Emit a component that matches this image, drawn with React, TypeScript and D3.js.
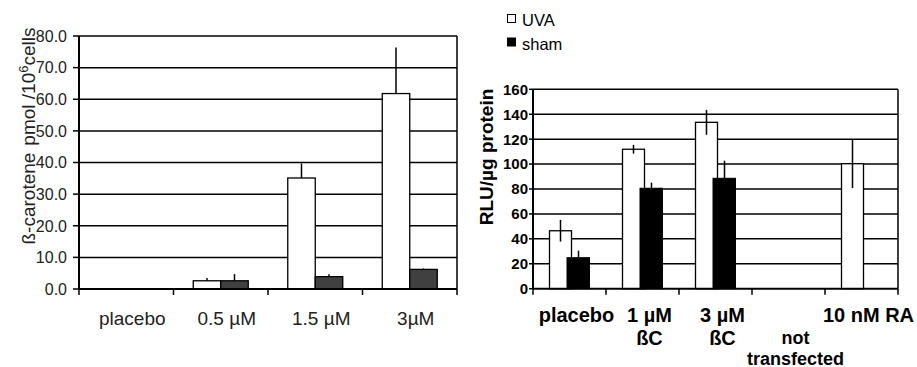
import React, { useEffect, useRef } from 'react';
import * as d3 from 'd3';

// left panel: beta-carotene uptake
const leftCategories = ['placebo', '0.5 µM', '1.5 µM', '3µM'];
const leftUva = [0, 2.6, 35.1, 61.8];
const leftUvaErr = [0, 0.9, 4.6, 14.6];
const leftSham = [0, 2.6, 3.9, 6.2];
const leftShamErr = [0, 2.1, 0.8, 0.3];
const leftTicks = [0, 10, 20, 30, 40, 50, 60, 70, 80];

// right panel: luciferase activity
const rightCategories = [['placebo'], ['1 µM', 'ßC'], ['3 µM', 'ßC'], ['', 'not', 'transfected'], ['10 nM RA']];
const rightUva = [46.5, 111.9, 133.5, 0, 100.3];
const rightUvaErr = [8.7, 3.5, 10, 0, 19.6];
const rightSham = [24.9, 80.6, 88.6, 0, 0];
const rightShamErr = [5.6, 4.5, 14.1, 0, 0];
const rightTicks = [0, 20, 40, 60, 80, 100, 120, 140, 160];

const legendItems = ['UVA', 'sham'];

const FONT = '"Liberation Sans", Arial, sans-serif';

const App = () => {
  const svgRef = useRef<SVGSVGElement>(null);

  useEffect(() => {
    const svg = d3.select(svgRef.current);
    svg.selectAll('*').remove();
    svg.attr('font-family', FONT);

    // ---------- left chart ----------
    const xL = d3.scaleBand().domain(leftCategories).range([79, 457]);
    const yL = d3.scaleLinear().domain([0, 80]).range([289, 36]);
    const gL = svg.append('g');

    gL.selectAll('line.grid')
      .data(leftTicks.filter(t => t > 0))
      .enter().append('line')
      .attr('x1', 79).attr('x2', 457)
      .attr('y1', d => yL(d)).attr('y2', d => yL(d))
      .attr('stroke', '#000').attr('stroke-width', 1.5);
    gL.append('line').attr('x1', 457).attr('x2', 457).attr('y1', yL(80)).attr('y2', yL(0))
      .attr('stroke', '#000').attr('stroke-width', 1.5);

    const bwL = 27.5;
    leftCategories.forEach((c, i) => {
      const cx = xL(c)! + xL.bandwidth() / 2;
      if (leftUva[i] > 0) {
        gL.append('rect').attr('x', cx - bwL).attr('width', bwL)
          .attr('y', yL(leftUva[i])).attr('height', yL(0) - yL(leftUva[i]))
          .attr('fill', '#fff').attr('stroke', '#000').attr('stroke-width', 1.3);
        gL.append('line').attr('x1', cx - bwL / 2).attr('x2', cx - bwL / 2)
          .attr('y1', yL(leftUva[i])).attr('y2', yL(leftUva[i] + leftUvaErr[i]))
          .attr('stroke', '#000').attr('stroke-width', 1.5);
      }
      if (leftSham[i] > 0) {
        gL.append('rect').attr('x', cx).attr('width', bwL)
          .attr('y', yL(leftSham[i])).attr('height', yL(0) - yL(leftSham[i]))
          .attr('fill', '#404040').attr('stroke', '#000').attr('stroke-width', 1.3);
        gL.append('line').attr('x1', cx + bwL / 2).attr('x2', cx + bwL / 2)
          .attr('y1', yL(leftSham[i])).attr('y2', yL(leftSham[i] + leftShamErr[i]))
          .attr('stroke', '#000').attr('stroke-width', 1.5);
      }
    });

    // axes
    gL.append('line').attr('x1', 79).attr('x2', 79).attr('y1', yL(80)).attr('y2', yL(0))
      .attr('stroke', '#000').attr('stroke-width', 2);
    gL.append('line').attr('x1', 79).attr('x2', 457).attr('y1', yL(0)).attr('y2', yL(0))
      .attr('stroke', '#000').attr('stroke-width', 2);
    leftTicks.forEach(t => {
      gL.append('line').attr('x1', 73).attr('x2', 79).attr('y1', yL(t)).attr('y2', yL(t))
        .attr('stroke', '#000').attr('stroke-width', 1.5);
      gL.append('text').attr('x', 67).attr('y', yL(t)).attr('dy', '0.36em')
        .attr('text-anchor', 'end').attr('font-size', 16).attr('fill', '#222')
        .text(t.toFixed(1));
    });
    [...leftCategories.map(c => xL(c)!), 457].forEach(x => {
      gL.append('line').attr('x1', x).attr('x2', x).attr('y1', yL(0)).attr('y2', yL(0) + 6)
        .attr('stroke', '#000').attr('stroke-width', 1.5);
    });
    leftCategories.forEach(c => {
      gL.append('text').attr('x', xL(c)! + xL.bandwidth() / 2 + 6).attr('y', 325)
        .attr('text-anchor', 'middle').attr('font-size', 19).attr('fill', '#222').text(c);
    });
    const tL = gL.append('text').attr('transform', 'translate(35,136) rotate(-90)')
      .attr('text-anchor', 'middle').attr('font-size', 19).attr('fill', '#222');
    tL.append('tspan').text('ß-carotene');
    tL.append('tspan').attr('dx', 7).text('pmol /10');
    tL.append('tspan').attr('dy', -7).attr('font-size', 13).text('6');
    tL.append('tspan').attr('dy', 7).text('cells');

    // ---------- right chart ----------
    const keys = rightCategories.map(d => d.join(' '));
    const xR = d3.scaleBand().domain(keys).range([533, 898]);
    const yR = d3.scaleLinear().domain([0, 160]).range([288.7, 89.3]);
    const gR = svg.append('g');

    gR.selectAll('line.grid')
      .data(rightTicks.filter(t => t > 0))
      .enter().append('line')
      .attr('x1', 533).attr('x2', 898)
      .attr('y1', d => yR(d)).attr('y2', d => yR(d))
      .attr('stroke', '#000').attr('stroke-width', 1.5);
    gR.append('line').attr('x1', 898).attr('x2', 898).attr('y1', yR(160)).attr('y2', yR(0))
      .attr('stroke', '#000').attr('stroke-width', 1.5);

    keys.forEach((k, i) => {
      const cx = xR(k)! + xR.bandwidth() / 2;
      if (rightUva[i] > 0) {
        gR.append('rect').attr('x', cx - 20).attr('width', 22)
          .attr('y', yR(rightUva[i])).attr('height', yR(0) - yR(rightUva[i]))
          .attr('fill', '#fff').attr('stroke', '#000').attr('stroke-width', 1.3);
        gR.append('line').attr('x1', cx - 9).attr('x2', cx - 9)
          .attr('y1', yR(rightUva[i] - rightUvaErr[i])).attr('y2', yR(rightUva[i] + rightUvaErr[i]))
          .attr('stroke', '#000').attr('stroke-width', 1.5);
      }
      if (rightSham[i] > 0) {
        gR.append('rect').attr('x', cx - 2.5).attr('width', 22.5)
          .attr('y', yR(rightSham[i])).attr('height', yR(0) - yR(rightSham[i]))
          .attr('fill', '#000').attr('stroke', '#000').attr('stroke-width', 1);
        gR.append('line').attr('x1', cx + 9).attr('x2', cx + 9)
          .attr('y1', yR(rightSham[i] - rightShamErr[i])).attr('y2', yR(rightSham[i] + rightShamErr[i]))
          .attr('stroke', '#000').attr('stroke-width', 1.5);
      }
    });

    gR.append('line').attr('x1', 533).attr('x2', 533).attr('y1', yR(160)).attr('y2', yR(0))
      .attr('stroke', '#000').attr('stroke-width', 2);
    gR.append('line').attr('x1', 533).attr('x2', 898).attr('y1', yR(0)).attr('y2', yR(0))
      .attr('stroke', '#000').attr('stroke-width', 2);
    rightTicks.forEach(t => {
      gR.append('line').attr('x1', 529).attr('x2', 533).attr('y1', yR(t)).attr('y2', yR(t))
        .attr('stroke', '#000').attr('stroke-width', 1.5);
      gR.append('text').attr('x', 528).attr('y', yR(t)).attr('dy', '0.36em')
        .attr('text-anchor', 'end').attr('font-size', 15).attr('font-weight', 'bold')
        .text(String(t));
    });
    [...keys.map(k => xR(k)!), 898].forEach(x => {
      gR.append('line').attr('x1', x).attr('x2', x).attr('y1', yR(0)).attr('y2', yR(0) + 6)
        .attr('stroke', '#000').attr('stroke-width', 1.5);
    });
    // staggered label ("not transfected") sits one row lower, with tighter lines
    const lineY = [321.7, 345, 364.5];
    rightCategories.forEach((lines, i) => {
      const cx = xR(keys[i])! + xR.bandwidth() / 2 + 7;
      const staggered = lines[0] === '';
      lines.forEach((ln, j) => {
        if (!ln) return;
        gR.append('text').attr('x', cx).attr('y', staggered && j === 1 ? 343.5 : lineY[j])
          .attr('text-anchor', 'middle').attr('font-size', staggered ? 18 : 20)
          .attr('font-weight', 'bold')
          .text(ln);
      });
    });
    gR.append('text').attr('transform', 'translate(493,157) rotate(-90)')
      .attr('text-anchor', 'middle').attr('font-size', 19).attr('font-weight', 'bold')
      .text('RLU/µg protein');

    // legend
    const lg = svg.append('g').attr('transform', 'translate(507,14)');
    legendItems.forEach((name, i) => {
      lg.append('rect').attr('x', 0.5).attr('y', i * 23.5 + 0.5).attr('width', 8).attr('height', 8)
        .attr('fill', i === 0 ? '#fff' : '#000').attr('stroke', '#000').attr('stroke-width', 1);
      lg.append('text').attr('x', 15).attr('y', i * 23.5 + 12).attr('font-size', 16.5)
        .text(name);
    });
  }, []);

  return (
    <svg
      ref={svgRef}
      width={917}
      height={367}
      style={{ position: 'absolute', left: 0, top: 0, background: '#fff' }}
    />
  );
};

export default App;
